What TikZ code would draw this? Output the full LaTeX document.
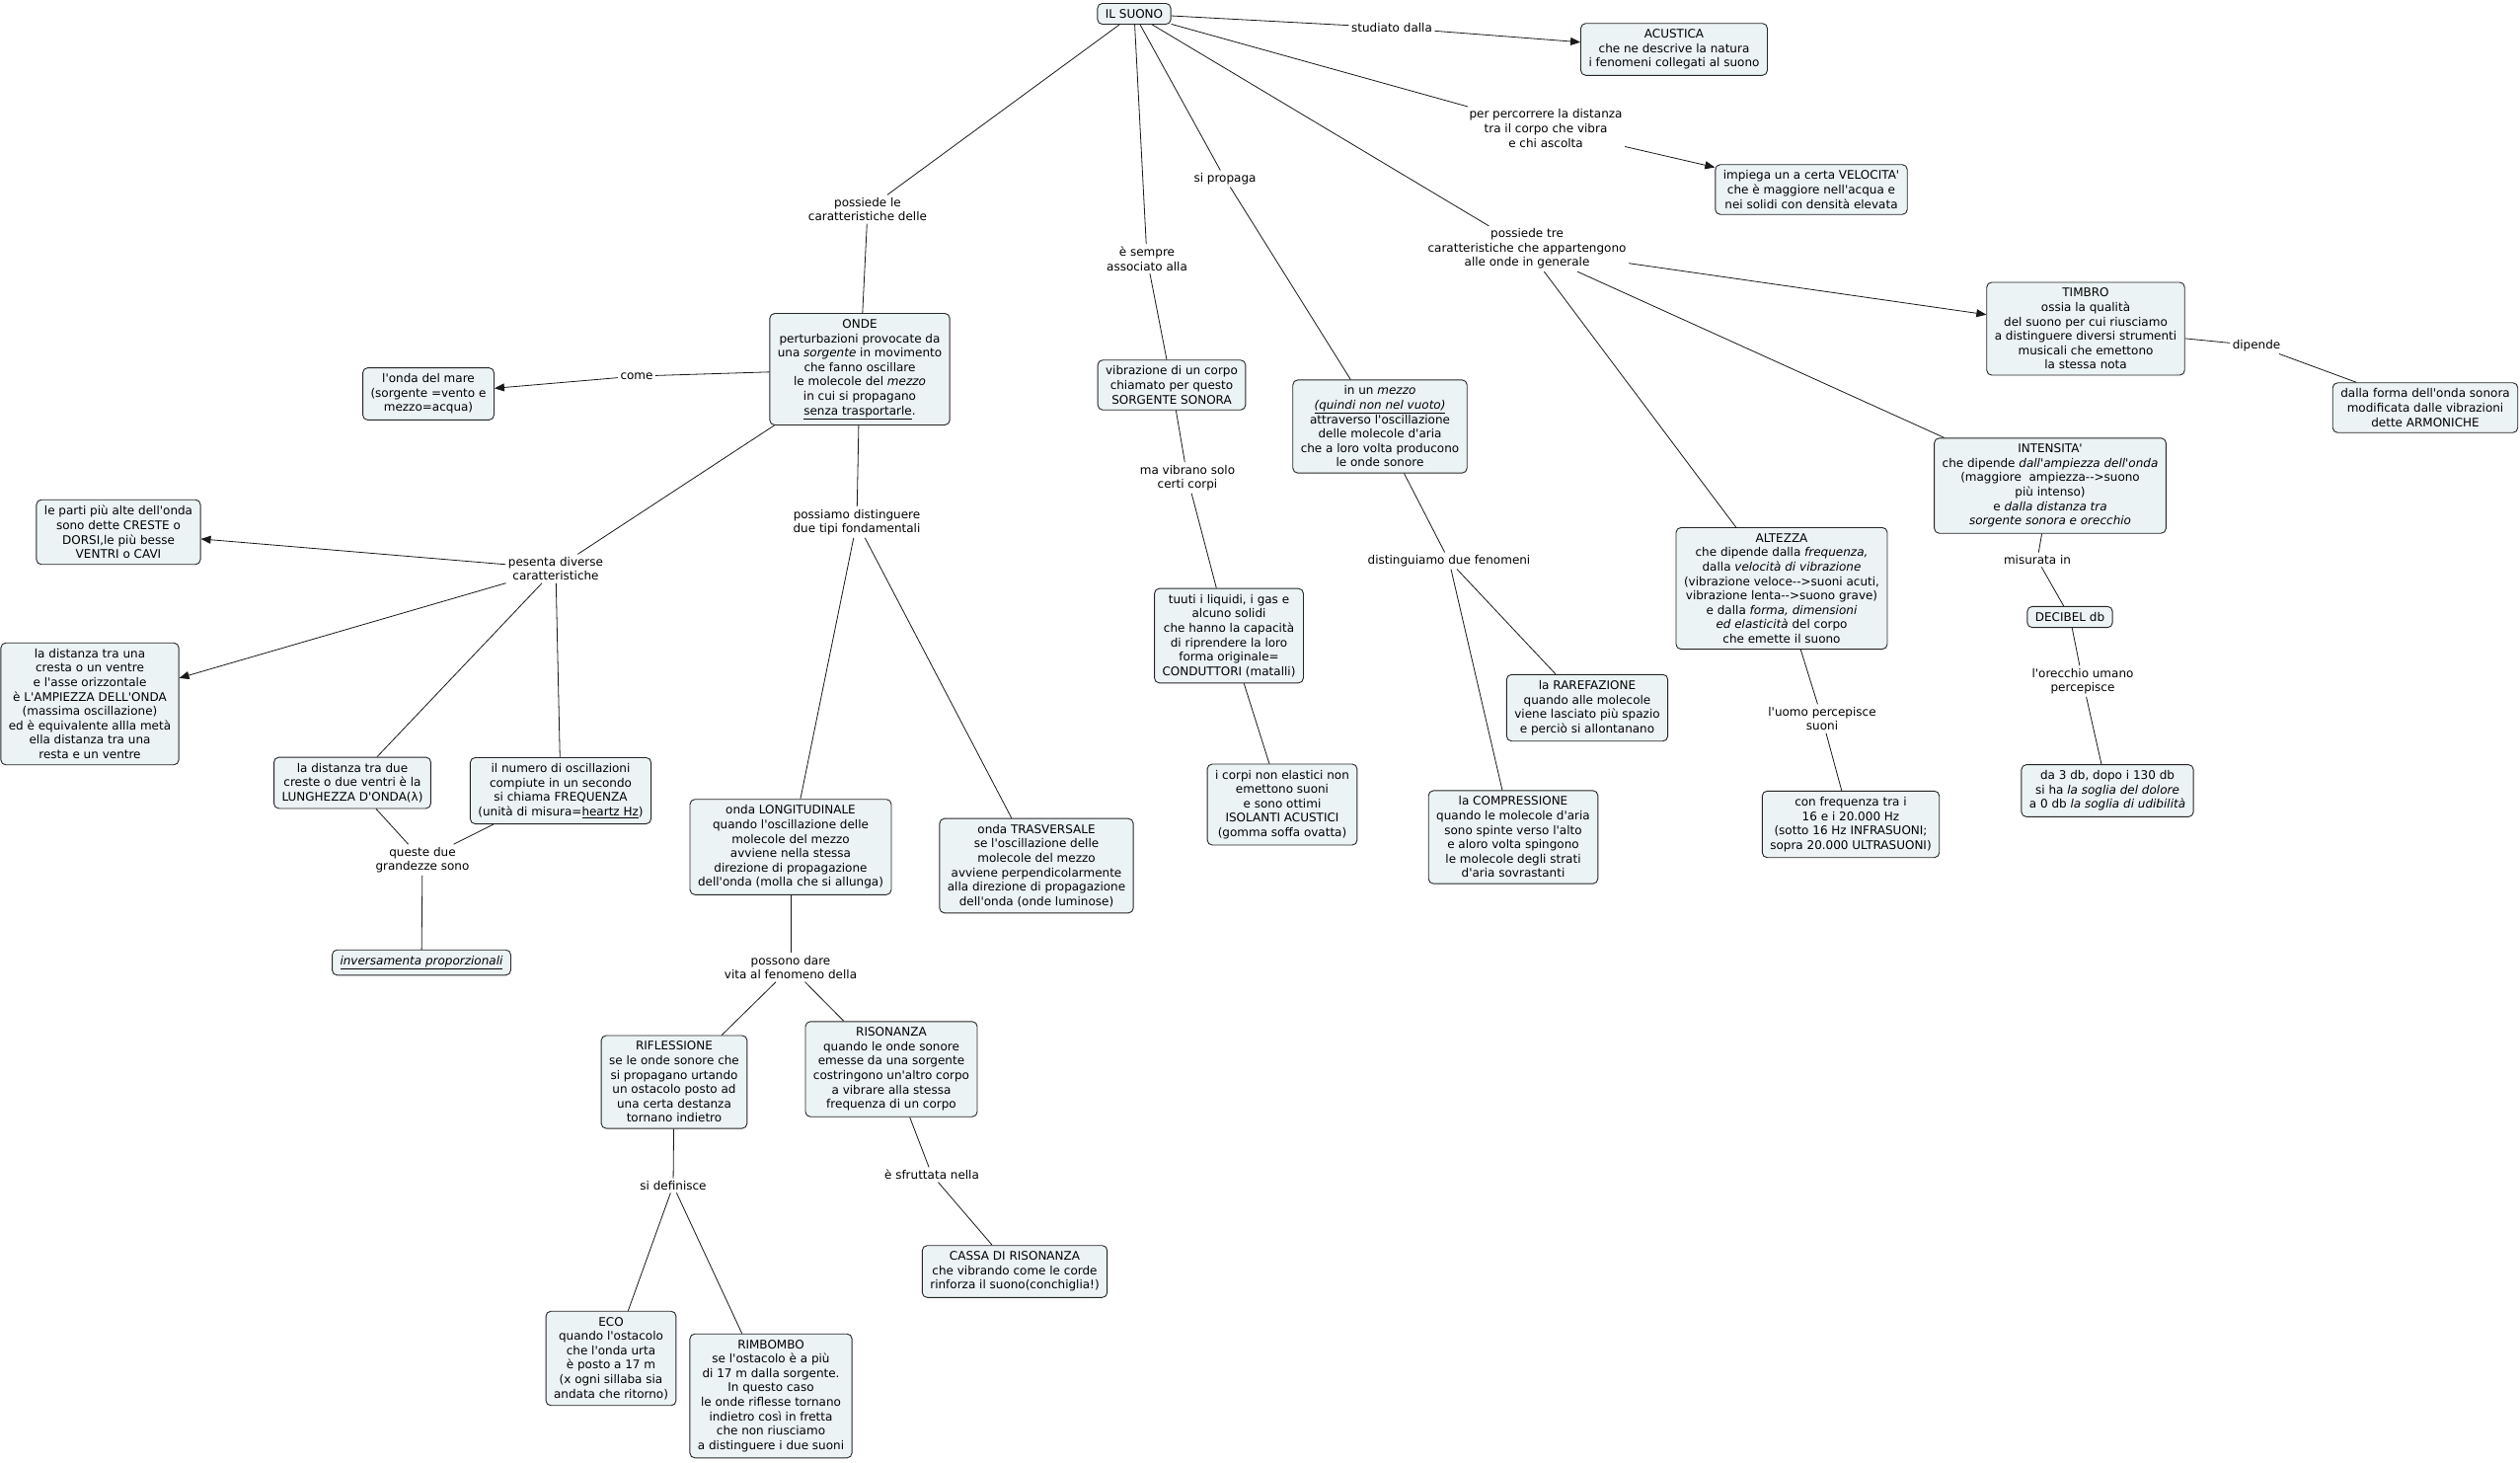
\documentclass[tikz,border=0pt]{standalone}
\usepackage{fontspec}
\setmainfont{DejaVu Sans}[Ligatures=TeXOff]
\usetikzlibrary{arrows.meta}
\definecolor{boxfill}{RGB}{236,243,245}
\begin{document}
\begin{tikzpicture}[x=1pt,y=-1pt,
  every node/.style={font=\fontsize{12}{14.6}\selectfont},
  concept/.style={draw=black!85, fill=boxfill, rounded corners=5pt, align=center, inner xsep=8pt, inner ysep=6pt, line width=0.9pt},
  lab/.style={align=center, inner sep=2.5pt},
  conn/.style={line width=0.8pt, draw=black!90},
  arr/.style={conn, -{Triangle[length=10pt,width=8pt]}}
]
\fill[white] (0,0) rectangle (2553,1481);
\useasboundingbox (0,0) rectangle (2553,1481);

% concepts
\node[concept] (suono) at (1149,14) {IL SUONO};
\node[concept] (acustica) at (1696,50) {ACUSTICA\\che ne descrive la natura\\i fenomeni collegati al suono};
\node[concept] (velocita) at (1835,192) {impiega un a certa VELOCITA'\\che è maggiore nell'acqua e\\nei solidi con densità elevata};
\node[concept] (timbro) at (2113,333) {TIMBRO\\ossia la qualità\\del suono per cui riusciamo\\a distinguere diversi strumenti\\musicali che emettono\\la stessa nota};
\node[concept] (armoniche) at (2457,413) {dalla forma dell'onda sonora\\modificata dalle vibrazioni\\dette ARMONICHE};
\node[concept] (intensita) at (2077,492) {INTENSITA'\\che dipende \textit{dall'ampiezza dell'onda}\\(maggiore\ \ ampiezza-->suono\\più intenso)\\e \textit{dalla distanza tra}\\\textit{sorgente sonora e orecchio}};
\node[concept] (decibel) at (2097,625) {DECIBEL db};
\node[concept] (soglia) at (2135,801) {da 3 db, dopo i 130 db\\si ha \textit{la soglia del dolore}\\a 0 db \textit{la soglia di udibilità}};
\node[concept] (altezza) at (1805,596) {ALTEZZA\\che dipende dalla \textit{frequenza,}\\dalla \textit{velocità di vibrazione}\\(vibrazione veloce-->suoni acuti,\\vibrazione lenta-->suono grave)\\e dalla \textit{forma, dimensioni}\\\textit{ed elasticità} del corpo\\che emette il suono};
\node[concept] (confreq) at (1875,835) {con frequenza tra i\\16 e i 20.000 Hz\\(sotto 16 Hz INFRASUONI;\\sopra 20.000 ULTRASUONI)};
\node[concept] (mezzo) at (1398,432) {in un \textit{mezzo}\\\textit{\underline{(quindi non nel vuoto)}}\\attraverso l'oscillazione\\delle molecole d'aria\\che a loro volta producono\\le onde sonore};
\node[concept] (rarefazione) at (1608,717) {la RAREFAZIONE\\quando alle molecole\\viene lasciato più spazio\\e perciò si allontanano};
\node[concept] (compressione) at (1533,848) {la COMPRESSIONE\\quando le molecole d'aria\\sono spinte verso l'alto\\e aloro volta spingono\\le molecole degli strati\\d'aria sovrastanti};
\node[concept] (sorgente) at (1187,390) {vibrazione di un corpo\\chiamato per questo\\SORGENTE SONORA};
\node[concept] (conduttori) at (1245,644) {tuuti i liquidi, i gas e\\alcuno solidi\\che hanno la capacità\\di riprendere la loro\\forma originale=\\CONDUTTORI (matalli)};
\node[concept] (isolanti) at (1299,815) {i corpi non elastici non\\emettono suoni\\e sono ottimi\\ISOLANTI ACUSTICI\\(gomma soffa ovatta)};
\node[concept] (onde) at (871,374) {ONDE\\perturbazioni provocate da\\una \textit{sorgente} in movimento\\che fanno oscillare\\le molecole del \textit{mezzo}\\in cui si propagano\\\underline{senza trasportarle}.};
\node[concept] (mare) at (434,399) {l'onda del mare\\(sorgente =vento e\\mezzo=acqua)};
\node[concept] (creste) at (120,539) {le parti più alte dell'onda\\sono dette CRESTE o\\DORSI,le più besse\\VENTRI o CAVI};
\node[concept] (ampiezza) at (91,713) {la distanza tra una\\cresta o un ventre\\e l'asse orizzontale\\è L'AMPIEZZA DELL'ONDA\\(massima oscillazione)\\ed è equivalente allla metà\\ella distanza tra una\\resta e un ventre};
\node[concept] (lunghezza) at (357,793) {la distanza tra due\\creste o due ventri è la\\LUNGHEZZA D'ONDA(λ)};
\node[concept] (frequenza) at (568,801) {il numero di oscillazioni\\compiute in un secondo\\si chiama FREQUENZA\\(unità di misura=\underline{heartz Hz})};
\node[concept] (inversa) at (427,975) {\textit{\underline{inversamenta proporzionali}}};
\node[concept] (longit) at (801,858) {onda LONGITUDINALE\\quando l'oscillazione delle\\molecole del mezzo\\avviene nella stessa\\direzione di propagazione\\dell'onda (molla che si allunga)};
\node[concept] (trasv) at (1050,877) {onda TRASVERSALE\\se l'oscillazione delle\\molecole del mezzo\\avviene perpendicolarmente\\alla direzione di propagazione\\dell'onda (onde luminose)};
\node[concept] (rifl) at (683,1096) {RIFLESSIONE\\se le onde sonore che\\si propagano urtando\\un ostacolo posto ad\\una certa destanza\\tornano indietro};
\node[concept] (rison) at (903,1083) {RISONANZA\\quando le onde sonore\\emesse da una sorgente\\costringono un'altro corpo\\a vibrare alla stessa\\frequenza di un corpo};
\node[concept] (cassa) at (1028,1288) {CASSA DI RISONANZA\\che vibrando come le corde\\rinforza il suono(conchiglia!)};
\node[concept] (eco) at (619,1376) {ECO\\quando l'ostacolo\\che l'onda urta\\è posto a 17 m\\(x ogni sillaba sia\\andata che ritorno)};
\node[concept] (rimbombo) at (781,1414) {RIMBOMBO\\se l'ostacolo è a più\\di 17 m dalla sorgente.\\In questo caso\\le onde riflesse tornano\\indietro così in fretta\\che non riusciamo\\a distinguere i due suoni};

% link labels
\node[lab] (l1) at (1410,28) {studiato dalla};
\node[lab] (l2) at (1566,130) {per percorrere la distanza\\tra il corpo che vibra\\e chi ascolta};
\node[lab] (l3) at (1547,252) {possiede tre\\caratteristiche che appartengono\\alle onde in generale};
\node[lab] (l4) at (2286,350) {dipende};
\node[lab] (l5) at (2064,567) {misurata in};
\node[lab] (l6) at (2110,690) {l'orecchio umano\\percepisce};
\node[lab] (l7) at (1846,728) {l'uomo percepisce\\suoni};
\node[lab] (l8) at (1241,181) {si propaga};
\node[lab] (l9) at (1468,568) {distinguiamo due fenomeni};
\node[lab] (l10) at (1162,262) {è sempre\\associato alla};
\node[lab] (l11) at (1203,484) {ma vibrano solo\\certi corpi};
\node[lab] (l12) at (879,212) {possiede le\\caratteristiche delle};
\node[lab] (l13) at (645,381) {come};
\node[lab] (l14) at (563,576) {pesenta diverse\\caratteristiche};
\node[lab] (l15) at (428,871) {queste due\\grandezze sono};
\node[lab] (l16) at (868,529) {possiamo distinguere\\due tipi fondamentali};
\node[lab] (l17) at (801,980) {possono dare\\vita al fenomeno della};
\node[lab] (l18) at (944,1190) {è sfruttata nella};
\node[lab] (l19) at (682,1201) {si definisce};

% connectors
\draw[conn] (suono) -- (l1);  \draw[arr] (l1) -- (acustica);
\draw[conn] (suono) -- (l2);  \draw[arr] (l2) -- (velocita);
\draw[conn] (suono) -- (l3);  \draw[arr] (l3) -- (timbro);
\draw[conn] (l3) -- (intensita);
\draw[conn] (l3) -- (altezza);
\draw[conn] (timbro) -- (l4); \draw[conn] (l4) -- (armoniche);
\draw[conn] (intensita) -- (l5); \draw[conn] (l5) -- (decibel);
\draw[conn] (decibel) -- (l6); \draw[conn] (l6) -- (soglia);
\draw[conn] (altezza) -- (l7); \draw[conn] (l7) -- (confreq);
\draw[conn] (suono) -- (l8); \draw[conn] (l8) -- (mezzo);
\draw[conn] (mezzo) -- (l9); \draw[conn] (l9) -- (rarefazione);
\draw[conn] (l9) -- (compressione);
\draw[conn] (suono) -- (l10); \draw[conn] (l10) -- (sorgente);
\draw[conn] (sorgente) -- (l11); \draw[conn] (l11) -- (conduttori);
\draw[conn] (conduttori) -- (isolanti);
\draw[conn] (suono) -- (l12); \draw[conn] (l12) -- (onde);
\draw[conn] (onde) -- (l13); \draw[arr] (l13) -- (mare);
\draw[conn] (onde) -- (l14);
\draw[arr] (l14) -- (creste);
\draw[arr] (l14) -- (ampiezza);
\draw[conn] (l14) -- (lunghezza);
\draw[conn] (l14) -- (frequenza);
\draw[conn] (lunghezza) -- (l15); \draw[conn] (frequenza) -- (l15);
\draw[conn] (l15) -- (inversa);
\draw[conn] (onde) -- (l16); \draw[conn] (l16) -- (longit);
\draw[conn] (l16) -- (trasv);
\draw[conn] (longit) -- (l17); \draw[conn] (l17) -- (rifl);
\draw[conn] (l17) -- (rison);
\draw[conn] (rison) -- (l18); \draw[conn] (l18) -- (cassa);
\draw[conn] (rifl) -- (l19); \draw[conn] (l19) -- (eco);
\draw[conn] (l19) -- (rimbombo);
\end{tikzpicture}
\end{document}
